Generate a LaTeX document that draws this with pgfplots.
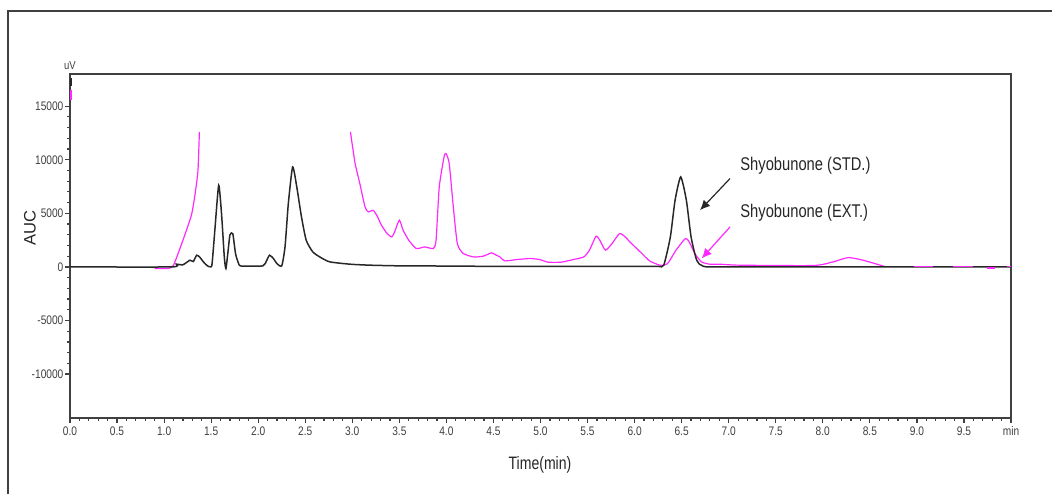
\documentclass[border=0pt]{standalone}
\usepackage{graphicx}
\usepackage{fontspec}
\setmainfont{Liberation Sans}
\usepackage{pgfplots}
\pgfplotsset{compat=1.18}
\usetikzlibrary{arrows.meta}
\definecolor{mag}{RGB}{255,40,255}
\definecolor{axgray}{RGB}{64,64,64}
\definecolor{curve}{RGB}{40,40,40}
\newcommand\tl[1]{\scalebox{0.82}[1]{#1}}
\begin{document}
\begin{tikzpicture}
\path[use as bounding box] (0,0) rectangle (526pt,247pt);
\draw[axgray, line width=0.9pt] (4pt,0) -- (4pt,241.5pt) -- (526pt,241.5pt);
\begin{axis}[
  at={(35pt,38pt)}, anchor=south west,
  scale only axis, width=470.5pt, height=172pt,
  xmin=0, xmax=10, ymin=-14100, ymax=18000,
  scaled y ticks=false, scaled x ticks=false,
  axis line style={axgray, line width=0.9pt},
  tick pos=left, tick align=outside,
  major tick length=2.5pt, minor tick length=1.5pt,
  tick style={axgray, line width=0.6pt},
  xtick={0,0.5,1,1.5,2,2.5,3,3.5,4,4.5,5,5.5,6,6.5,7,7.5,8,8.5,9,9.5,10},
  xticklabels={\tl{0.0},\tl{0.5},\tl{1.0},\tl{1.5},\tl{2.0},\tl{2.5},\tl{3.0},\tl{3.5},\tl{4.0},\tl{4.5},\tl{5.0},\tl{5.5},\tl{6.0},\tl{6.5},\tl{7.0},\tl{7.5},\tl{8.0},\tl{8.5},\tl{9.0},\tl{9.5},\tl{min}},
  minor x tick num=4,
  ytick={-10000,-5000,0,5000,10000,15000},
  yticklabels={\tl{-10000},\tl{-5000},\tl{0},\tl{5000},\tl{10000},\tl{15000}},
  minor y tick num=4,
  ticklabel style={font=\fontsize{6.2}{7}\selectfont, text=axgray},
  xticklabel style={inner sep=1pt, text height=4.5pt, yshift=-0.5pt},
  yticklabel style={inner sep=0.6pt},
  clip=true,
]
% EXT (magenta)
\addplot[mag, line width=0.6pt, smooth, tension=0.35] coordinates {
(0.90,-150)(1.04,-150)(1.10,160)(1.20,2490)(1.29,4820)(1.33,6850)(1.36,9020)(1.375,12600)
};
\addplot[mag, line width=0.6pt, smooth, tension=0.35] coordinates {
(2.98,12600)(3.03,9650)(3.08,7780)(3.135,5600)(3.17,5130)(3.22,5290)(3.26,4820)(3.31,3890)
(3.37,3110)(3.42,2800)(3.45,3270)(3.50,4360)(3.54,3420)(3.60,2490)(3.68,1710)(3.77,1870)
(3.86,1710)(3.89,2490)(3.924,7460)(3.975,10260)(3.996,10580)(4.03,9650)(4.07,5910)(4.116,2180)
(4.18,1250)(4.29,930)(4.39,1000)(4.48,1310)(4.53,1090)(4.57,930)(4.62,560)(4.75,690)
(4.89,780)(4.99,690)(5.08,440)(5.22,440)(5.35,690)(5.46,930)(5.52,1560)(5.59,2860)
(5.63,2490)(5.69,1560)(5.76,2180)(5.84,3110)(5.90,2800)(5.95,2330)(6.06,1400)(6.16,560)
(6.27,160)(6.35,310)(6.44,1560)(6.54,2650)(6.58,2330)(6.64,1250)(6.71,470)(6.80,250)
(6.91,250)(7.12,160)(7.90,130)(8.11,470)(8.27,870)(8.43,620)(8.61,160)(8.66,30)
};
% STD (black)
\addplot[curve, line width=0.75pt, smooth, tension=0.35] coordinates {
(0,0)(1.08,0)(1.13,250)(1.2,200)(1.275,625)(1.31,500)(1.346,1090)(1.38,900)(1.417,470)
(1.46,100)(1.495,0)(1.51,300)(1.54,3500)(1.58,7620)(1.61,5000)(1.64,900)(1.657,-150)
(1.68,1500)(1.70,3000)(1.73,3100)(1.76,1200)(1.80,150)(1.85,80)(2.05,100)(2.09,600)
(2.12,1090)(2.16,800)(2.20,300)(2.25,100)(2.285,1870)(2.32,5900)(2.366,9330)(2.41,7460)
(2.46,4660)(2.51,2490)(2.58,1400)(2.66,900)(2.76,470)(2.98,250)(3.19,160)(3.5,100)
(4.0,80)(4.5,50)(5.0,50)(5.5,50)(6.0,50)(6.25,50)(6.31,160)(6.38,2800)(6.43,6220)
(6.49,8400)(6.55,6220)(6.60,2800)(6.66,620)(6.73,60)(7.0,0)(10,0)
};
% magenta baseline fragments
\addplot[mag, line width=0.8pt] coordinates {(8.97,20)(9.17,20)};
\addplot[mag, line width=0.8pt] coordinates {(9.38,20)(9.60,20)};
\addplot[mag, line width=0.8pt] coordinates {(9.75,-120)(9.83,-120)};
\addplot[mag, line width=0.8pt] coordinates {(9.96,20)(10,20)};
% marks on the y axis near the top
\addplot[mag, line width=0.8pt] coordinates {(0.01,15550)(0.01,16480)};
\addplot[curve, line width=0.8pt] coordinates {(0.01,16900)(0.01,17600)};
% annotations
\node[anchor=west, inner sep=0, font=\fontsize{9.2}{10}\selectfont, text=black!85]
  at (axis cs:7.12,9393) {\scalebox{0.8}[1]{Shyobunone (STD.)}};
\node[anchor=west, inner sep=0, font=\fontsize{9.2}{10}\selectfont, text=black!85]
  at (axis cs:7.12,5009) {\scalebox{0.8}[1]{Shyobunone (EXT.)}};
\draw[curve, line width=0.6pt, -{Latex[length=5pt,width=4.5pt]}]
  (axis cs:7.014,8246) -- (axis cs:6.695,5289);
\draw[mag, line width=0.6pt, -{Latex[length=5pt,width=4.5pt]}]
  (axis cs:7.014,3731) -- (axis cs:6.713,784);
\end{axis}
\node[rotate=90, font=\fontsize{8.3}{9}\selectfont, text=black!85] at (15pt,133pt) {AUC};
\node[font=\fontsize{9}{10}\selectfont, text=black!85] at (270pt,14.5pt) {\scalebox{0.78}[1]{Time(min)}};
\node[font=\fontsize{5.8}{6}\selectfont, text=axgray, inner sep=0] at (35pt,214pt) {\tl{uV}};
\end{tikzpicture}
\end{document}
